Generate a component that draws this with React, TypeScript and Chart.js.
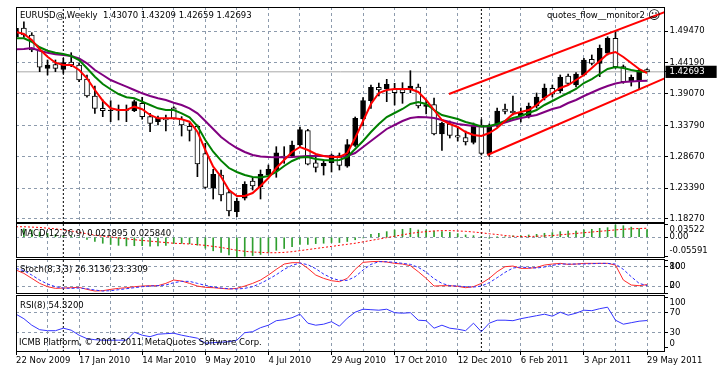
import React, { useEffect, useRef } from "react";
import { Chart, registerables } from "chart.js";

Chart.register(...registerables);

// ---------------- data ----------------
const dateLabels = ["22 Nov 2009", "17 Jan 2010", "14 Mar 2010", "9 May 2010", "4 Jul 2010", "29 Aug 2010", "17 Oct 2010", "12 Dec 2010", "6 Feb 2011", "3 Apr 2011", "29 May 2011"];
const dateLabelBars = [0, 8, 16, 24, 32, 40, 48, 56, 64, 72, 80];
const gridBars = [0, 4, 8, 12, 16, 20, 24, 28, 32, 36, 40, 44, 48, 52, 56, 60, 64, 68, 72, 76, 80];
const separatorBars = [6, 59];

const open = [
  1.4852, 1.4997, 1.4881, 1.4632, 1.4328, 1.4391, 1.4311, 1.4433, 1.4383, 1.4150,
  1.3868, 1.3664, 1.3624, 1.3644, 1.3628, 1.3624, 1.3747, 1.3525, 1.3442, 1.3498,
  1.3674, 1.3482, 1.3365, 1.3365, 1.2914, 1.2337, 1.2557, 1.2267, 1.1948, 1.2171,
  1.2458, 1.2363, 1.2557, 1.2640, 1.2873, 1.2873, 1.3055, 1.3296, 1.2761, 1.2707,
  1.2761, 1.2881, 1.2702, 1.3047, 1.3487, 1.3790, 1.4013, 1.3985, 1.3980, 1.3976,
  1.3968, 1.4018, 1.3694, 1.3727, 1.3238, 1.3404, 1.3213, 1.3180, 1.3097, 1.3387,
  1.2906, 1.3387, 1.3653, 1.3619, 1.3536, 1.3536, 1.3702, 1.3835, 1.3996, 1.3951,
  1.4200, 1.4051, 1.4217, 1.4477, 1.4411, 1.4577, 1.4826, 1.4355, 1.4106, 1.4122,
  1.4307,
];
const high = [
  1.5141, 1.5101, 1.4919, 1.4677, 1.4466, 1.4466, 1.4494, 1.4587, 1.4411, 1.4217,
  1.4034, 1.3802, 1.3790, 1.3719, 1.3719, 1.3802, 1.3847, 1.3581, 1.3536, 1.3553,
  1.3691, 1.3525, 1.3420, 1.3387, 1.3083, 1.2652, 1.2640, 1.2308, 1.2176, 1.2446,
  1.2507, 1.2640, 1.2723, 1.3027, 1.3027, 1.3121, 1.3354, 1.3316, 1.2889, 1.2806,
  1.2906, 1.2922, 1.3146, 1.3520, 1.3843, 1.4051, 1.4084, 1.4145, 1.4079, 1.4089,
  1.4288, 1.4067, 1.3802, 1.3835, 1.3437, 1.3453, 1.3354, 1.3287, 1.3420, 1.3478,
  1.3404, 1.3669, 1.3736, 1.3868, 1.3669, 1.3752, 1.3918, 1.4067, 1.4051, 1.4217,
  1.4233, 1.4255, 1.4494, 1.4549, 1.4715, 1.4852, 1.4935, 1.4383, 1.4217, 1.4316,
  1.43209,
];
const low = [
  1.4826, 1.4842, 1.4603, 1.4272, 1.4217, 1.4272, 1.4245, 1.4355, 1.4106, 1.3847,
  1.3581, 1.3525, 1.3442, 1.3470, 1.3442, 1.3608, 1.3482, 1.3276, 1.3387, 1.3287,
  1.3482, 1.3204, 1.3121, 1.2529, 1.2337, 1.2159, 1.2126, 1.1877, 1.1865, 1.2142,
  1.2308, 1.2159, 1.2529, 1.2519, 1.2751, 1.2856, 1.3027, 1.2723, 1.2607, 1.2557,
  1.2607, 1.2640, 1.2685, 1.3030, 1.3370, 1.3664, 1.3868, 1.3774, 1.3719, 1.3747,
  1.3923, 1.3669, 1.3570, 1.3221, 1.2964, 1.3171, 1.3121, 1.3055, 1.3072, 1.2889,
  1.2864, 1.3354, 1.3570, 1.3553, 1.3437, 1.3503, 1.3669, 1.3802, 1.3852, 1.3918,
  1.4051, 1.4018, 1.4200, 1.4383, 1.4189, 1.4549, 1.4328, 1.4079, 1.4034, 1.3980,
  1.42659,
];
const close = [
  1.4992, 1.4881, 1.4632, 1.4345, 1.4383, 1.4328, 1.4421, 1.4383, 1.4134, 1.3868,
  1.3664, 1.3624, 1.3636, 1.3631, 1.3639, 1.3774, 1.3525, 1.3415, 1.3498, 1.3470,
  1.3498, 1.3387, 1.3299, 1.2740, 1.2353, 1.2569, 1.2225, 1.1960, 1.2126, 1.2403,
  1.2375, 1.2569, 1.2652, 1.2927, 1.2844, 1.3055, 1.3309, 1.2735, 1.2685, 1.2751,
  1.2889, 1.2715, 1.3060, 1.3498, 1.3794, 1.4013, 1.3968, 1.4062, 1.3923, 1.3923,
  1.4034, 1.3702, 1.3727, 1.3238, 1.3415, 1.3213, 1.3183, 1.3105, 1.3387, 1.2914,
  1.3387, 1.3619, 1.3611, 1.3586, 1.3586, 1.3702, 1.3852, 1.4001, 1.3897, 1.4179,
  1.4079, 1.4233, 1.4466, 1.4411, 1.4660, 1.4826, 1.4355, 1.4106, 1.4179, 1.4300,
  1.42693,
];

const maFast = [
  1.4930, 1.4897, 1.4798, 1.4643, 1.4520, 1.4421, 1.4383, 1.4383, 1.4300, 1.4162,
  1.3968, 1.3790, 1.3664, 1.3636, 1.3636, 1.3691, 1.3648, 1.3553, 1.3498, 1.3498,
  1.3498, 1.3482, 1.3442, 1.3276, 1.2972, 1.2695, 1.2529, 1.2308, 1.2209, 1.2209,
  1.2258, 1.2375, 1.2507, 1.2673, 1.2806, 1.2939, 1.3022, 1.2972, 1.2906, 1.2873,
  1.2856, 1.2856, 1.2922, 1.3171, 1.3453, 1.3735, 1.3918, 1.3968, 1.3985, 1.3985,
  1.3985, 1.3935, 1.3802, 1.3636, 1.3470, 1.3404, 1.3354, 1.3271, 1.3221, 1.3204,
  1.3254, 1.3337, 1.3453, 1.3570, 1.3603, 1.3636, 1.3719, 1.3835, 1.3918, 1.4001,
  1.4051, 1.4134, 1.4217, 1.4333, 1.4449, 1.4565, 1.4599, 1.4516, 1.4416, 1.4316,
  1.4250,
];
const maMid = [
  1.4826, 1.4826, 1.4769, 1.4677, 1.4620, 1.4587, 1.4565, 1.4532, 1.4466, 1.4328,
  1.4189, 1.4067, 1.3980, 1.3901, 1.3847, 1.3830, 1.3774, 1.3719, 1.3664, 1.3636,
  1.3636, 1.3581, 1.3515, 1.3370, 1.3138, 1.2944, 1.2795, 1.2673, 1.2607, 1.2557,
  1.2524, 1.2516, 1.2541, 1.2607, 1.2707, 1.2790, 1.2848, 1.2856, 1.2823, 1.2806,
  1.2798, 1.2806, 1.2856, 1.2989, 1.3121, 1.3271, 1.3404, 1.3520, 1.3586, 1.3653,
  1.3736, 1.3769, 1.3736, 1.3636, 1.3553, 1.3520, 1.3487, 1.3437, 1.3404, 1.3362,
  1.3370, 1.3404, 1.3453, 1.3503, 1.3536, 1.3586, 1.3636, 1.3719, 1.3785, 1.3852,
  1.3918, 1.3985, 1.4084, 1.4150, 1.4233, 1.4316, 1.4350, 1.4333, 1.4300, 1.4275,
  1.4267,
];
const maSlow = [
  1.4643, 1.4648, 1.4665, 1.4620, 1.4587, 1.4560, 1.4549, 1.4532, 1.4494, 1.4411,
  1.4300, 1.4217, 1.4134, 1.4079, 1.4023, 1.3968, 1.3913, 1.3868, 1.3830, 1.3802,
  1.3757, 1.3719, 1.3664, 1.3581, 1.3453, 1.3321, 1.3188, 1.3088, 1.3005, 1.2939,
  1.2889, 1.2864, 1.2856, 1.2851, 1.2851, 1.2856, 1.2864, 1.2873, 1.2873, 1.2873,
  1.2864, 1.2856, 1.2873, 1.2922, 1.3022, 1.3121, 1.3221, 1.3321, 1.3387, 1.3453,
  1.3503, 1.3520, 1.3515, 1.3503, 1.3470, 1.3437, 1.3404, 1.3387, 1.3370, 1.3362,
  1.3362, 1.3387, 1.3429, 1.3470, 1.3503, 1.3528, 1.3553, 1.3603, 1.3653, 1.3686,
  1.3752, 1.3802, 1.3868, 1.3926, 1.3985, 1.4034, 1.4076, 1.4101, 1.4109, 1.4117,
  1.4122,
];

const channelUpperBars = [54.9, 82.3];
const channelUpperPrices = [1.3901, 1.5264];
const channelLowerBars = [59.75, 82.3];
const channelLowerPrices = [1.2889, 1.4164];

const priceTicks = [1.4947, 1.4419, 1.3907, 1.3379, 1.2867, 1.2339, 1.1827];
const bidPrice = 1.42693;

const macdHist = [
  0.0256, 0.0240, 0.0205, 0.0150, 0.0110, 0.0075, 0.0050, 0.0030, -0.0005, -0.0060,
  -0.0120, -0.0170, -0.0205, -0.0230, -0.0245, -0.0240, -0.0240, -0.0250, -0.0245, -0.0230,
  -0.0175, -0.0175, -0.0185, -0.0225, -0.0310, -0.0385, -0.0430, -0.0500, -0.0559, -0.0540,
  -0.0520, -0.0490, -0.0430, -0.0370, -0.0320, -0.0270, -0.0200, -0.0200, -0.0180, -0.0170,
  -0.0150, -0.0150, -0.0120, -0.0070, -0.0020, 0.0085, 0.0114, 0.0161, 0.0209, 0.0228,
  0.0256, 0.0209, 0.0209, 0.0180, 0.0161, 0.0142, 0.0104, 0.0066, 0.0047, 0.0019,
  -0.0028, 0.0005, 0.0009, 0.0038, 0.0047, 0.0066, 0.0085, 0.0114, 0.0133, 0.0161,
  0.0180, 0.0180, 0.0209, 0.0228, 0.0256, 0.0275, 0.0352, 0.0330, 0.0290, 0.0250,
  0.0219,
];
const macdSignal = [
  0.030, 0.030, 0.029, 0.028, 0.026, 0.024, 0.021, 0.018, 0.014, 0.010,
  0.006, 0.003, 0.001, -0.002, -0.004, -0.007, -0.009, -0.011, -0.013, -0.015,
  -0.017, -0.018, -0.019, -0.021, -0.023, -0.026, -0.029, -0.033, -0.037, -0.040,
  -0.042, -0.043, -0.044, -0.044, -0.043, -0.041, -0.038, -0.035, -0.032, -0.029,
  -0.026, -0.023, -0.020, -0.017, -0.013, -0.009, -0.005, -0.001, 0.003, 0.007,
  0.011, 0.014, 0.016, 0.018, 0.019, 0.019, 0.018, 0.017, 0.015, 0.013,
  0.010, 0.008, 0.005, 0.003, 0.002, 0.002, 0.003, 0.004, 0.005, 0.007,
  0.009, 0.011, 0.013, 0.015, 0.017, 0.019, 0.021, 0.023, 0.024, 0.025,
  0.0258,
];
const macdTicks = [0.03522, 0, -0.05591];
const macdTickLabels = ["0.03522", "0.00", "-0.05591"];

const stochMain = [
  70, 60, 45, 30, 20, 15, 16, 17, 18, 12,
  7, 8, 12, 15, 17, 20, 22, 23, 23, 30,
  40, 37, 30, 22, 18, 17, 15, 13, 15, 22,
  30, 40, 55, 72, 88, 92, 92, 75, 55, 45,
  38, 35, 45, 72, 93, 95, 96, 94, 90, 88,
  83, 65, 45, 22, 23, 23, 21, 17, 20, 30,
  45, 65, 80, 82, 75, 75, 78, 85, 88, 90,
  87, 88, 90, 90, 90, 90, 85, 40, 25, 23,
  26.3136,
];
const stochSignal = [
  75, 68, 55, 40, 28, 20, 16, 15, 16, 14,
  10, 7, 8, 11, 14, 17, 20, 22, 23, 25,
  32, 36, 36, 30, 24, 19, 16, 14, 13, 15,
  20, 30, 42, 56, 72, 84, 91, 86, 74, 58,
  46, 39, 39, 50, 70, 87, 95, 95, 93, 90,
  87, 78, 64, 44, 30, 23, 22, 20, 19, 22,
  32, 47, 63, 76, 79, 77, 76, 79, 84, 88,
  88, 88, 88, 89, 90, 90, 88, 72, 50, 30,
  23.3309,
];
const stochTicks = [100, 80, 20, 0];
const stochLevels = [80, 20];

const rsi = [
  67, 58, 45, 36, 34, 34, 39, 35, 25, 18,
  16, 15, 15, 15, 15, 31, 25, 22, 27, 28,
  29, 25, 22, 19, 9, 10, 11, 12, 15, 30,
  32, 40, 45, 54, 56, 60, 67, 49, 45, 47,
  52, 43, 59, 71, 77, 76, 75, 77, 70, 69,
  70, 55, 54, 39, 45, 39, 37, 34, 49, 32,
  49, 55, 55, 54, 58, 61, 64, 67, 63, 71,
  65, 69, 75, 74, 78, 81, 55, 47, 50, 53,
  54.32,
];
const rsiTicks = [100, 70, 30, 0];
const rsiLevels = [70, 30];

// ---------------- styling ----------------
const FONT_FAMILY = '"DejaVu Sans", "Liberation Sans", sans-serif';
const TICK_FONT = { family: FONT_FAMILY, size: 8.5 };
const GRID = "#8d9bad";
const X_MAX = 82.28;
const AXIS_W = 52;
const CLEAR = "rgba(0,0,0,0)";

const framePlugin = {
  id: "frame",
  afterDraw(chart: any) {
    const { ctx, chartArea: a } = chart;
    ctx.save();
    ctx.strokeStyle = "#000";
    ctx.lineWidth = 1;
    ctx.setLineDash([]);
    ctx.strokeRect(a.left + 0.5, a.top + 0.5, a.right - a.left - 1, a.bottom - a.top - 1);
    ctx.restore();
  },
};

function clampLabels(scale: any, inset: number) {
  if (scale.__clampWrapped || typeof scale._computeLabelItems !== "function") return;
  const orig = scale._computeLabelItems.bind(scale);
  scale._computeLabelItems = (area: any) => {
    const items = orig(area);
    for (const it of items) {
      const tr = it.options && it.options.translation;
      if (!tr) continue;
      if (tr[1] < scale.top + inset) tr[1] = scale.top + inset;
      if (tr[1] > scale.bottom - inset) tr[1] = scale.bottom - inset;
    }
    return items;
  };
  scale.__clampWrapped = true;
}

function xAxis(showLabels: boolean) {
  return {
    type: "linear",
    min: 0,
    max: X_MAX,
    offset: false,
    afterBuildTicks: (s: any) => {
      s.ticks = gridBars.map((v) => ({ value: v }));
    },
    afterFit: (s: any) => {
      s.height = showLabels ? 17 : 0;
      s.paddingLeft = 0;
      s.paddingRight = 0;
    },
    grid: {
      color: GRID,
      lineWidth: 1,
      offset: false,
      drawTicks: showLabels,
      tickLength: 3,
      tickColor: (c: any) => (c.tick && dateLabelBars.includes(c.tick.value) ? "#000" : CLEAR),
    },
    border: { display: false, dash: [3, 3] },
    ticks: {
      display: showLabels,
      autoSkip: false,
      maxRotation: 0,
      minRotation: 0,
      align: "start",
      padding: 1,
      color: "#000",
      font: TICK_FONT,
      callback: (v: any) => {
        const k = dateLabelBars.indexOf(Number(v));
        return k >= 0 ? dateLabels[k] : "";
      },
    },
  };
}

function yAxis(o: { min: number; max: number; ticks: number[]; format: (v: number) => string; gridAt: number[]; clamp: number; bid?: number }) {
  const isBid = (c: any) => o.bid !== undefined && c.tick && c.tick.value === o.bid;
  return {
    type: "linear",
    position: "right",
    min: o.min,
    max: o.max,
    afterBuildTicks: (s: any) => {
      s.ticks = o.ticks.map((v) => ({ value: v }));
    },
    afterFit: (s: any) => {
      s.width = AXIS_W;
      s.paddingTop = 0;
      s.paddingBottom = 0;
      if (o.clamp) clampLabels(s, o.clamp);
    },
    grid: {
      color: (c: any) => (c.tick && o.gridAt.includes(c.tick.value) ? GRID : CLEAR),
      lineWidth: 1,
      drawTicks: true,
      tickLength: 3,
      tickColor: "#000",
    },
    border: { display: false, dash: [3, 3] },
    ticks: {
      autoSkip: false,
      padding: 1.5,
      font: TICK_FONT,
      color: (c: any) => (isBid(c) ? "#fff" : "#000"),
      showLabelBackdrop: (c: any) => isBid(c),
      backdropColor: "#000",
      backdropPadding: { top: 1, bottom: 1, left: 4, right: 12 },
      callback: (v: any) => o.format(Number(v)),
    },
  };
}

function vLines(bars: number[], yMin: number, yMax: number) {
  return bars.map((b) => ({
    type: "line",
    data: [
      { x: b, y: yMin },
      { x: b, y: yMax },
    ],
    borderColor: "#000",
    borderWidth: 1,
    borderDash: [2, 2],
    pointRadius: 0,
    order: 20,
  }));
}

function series(values: number[], color: string, width: number, order: number, dash?: number[]) {
  return {
    type: "line",
    data: values.map((v, i) => ({ x: i, y: v })),
    borderColor: color,
    borderWidth: width,
    borderDash: dash || [],
    pointRadius: 0,
    tension: 0,
    fill: false,
    order,
  };
}

function segment(bars: number[], prices: number[], color: string, width: number, order: number) {
  return {
    type: "line",
    data: bars.map((b, j) => ({ x: b, y: prices[j] })),
    borderColor: color,
    borderWidth: width,
    pointRadius: 0,
    tension: 0,
    fill: false,
    order,
  };
}

const baseOptions = {
  responsive: false,
  animation: false,
  devicePixelRatio: 1,
  events: [],
  layout: { padding: { left: 16, right: 0, top: 0, bottom: 0 } },
  plugins: { legend: { display: false }, tooltip: { enabled: false }, title: { display: false } },
};

const MAIN_MIN = 1.17606;
const MAIN_MAX = 1.53453;

function mainConfig(): any {
  const idx = open.map((_, i) => i);
  return {
    type: "bar",
    data: {
      datasets: [
        segment(channelUpperBars, channelUpperPrices, "#ff0000", 2, 1),
        segment(channelLowerBars, channelLowerPrices, "#ff0000", 2, 1),
        series(maFast, "#ff0000", 2, 2),
        series(maMid, "#008000", 2, 3),
        series(maSlow, "#800080", 2, 4),
        {
          type: "bar",
          data: idx.map((i) => ({ x: i, y: [Math.min(open[i], close[i]), Math.max(open[i], close[i])] })),
          backgroundColor: idx.map((i) => (close[i] >= open[i] ? "#000" : "#fff")),
          borderColor: "#000",
          borderWidth: 1,
          borderSkipped: false,
          barThickness: 5,
          grouped: false,
          order: 6,
        },
        {
          type: "bar",
          data: idx.map((i) => ({ x: i, y: [low[i], high[i]] })),
          backgroundColor: "#000",
          borderWidth: 0,
          barThickness: 1,
          grouped: false,
          order: 7,
        },
        segment([0, X_MAX], [bidPrice, bidPrice], "#a8a8a8", 1, 21),
        ...vLines(separatorBars, MAIN_MIN, MAIN_MAX),
      ],
    },
    options: {
      ...baseOptions,
      scales: {
        x: xAxis(false),
        y: yAxis({
          min: MAIN_MIN,
          max: MAIN_MAX,
          ticks: [...priceTicks, bidPrice],
          format: (v) => v.toFixed(5),
          gridAt: priceTicks,
          clamp: 0,
          bid: bidPrice,
        }),
      },
    },
    plugins: [framePlugin],
  };
}

const MACD_MIN = -0.059;
const MACD_MAX = 0.0407;

function macdConfig(): any {
  return {
    type: "bar",
    data: {
      datasets: [
        series(macdSignal, "#ff0000", 1, 1, [2, 2]),
        {
          type: "bar",
          data: macdHist.map((v, i) => ({ x: i, y: v })),
          backgroundColor: "#2f9f2f",
          borderWidth: 0,
          barThickness: 1,
          grouped: false,
          order: 5,
        },
        ...vLines(separatorBars, MACD_MIN, MACD_MAX),
      ],
    },
    options: {
      ...baseOptions,
      scales: {
        x: xAxis(false),
        y: yAxis({
          min: MACD_MIN,
          max: MACD_MAX,
          ticks: macdTicks,
          format: (v) => macdTickLabels[macdTicks.indexOf(v)] ?? String(v),
          gridAt: [0],
          clamp: 7,
        }),
      },
    },
    plugins: [framePlugin],
  };
}

const STOCH_MIN = -1.9;
const STOCH_MAX = 103.1;

function stochConfig(): any {
  return {
    type: "line",
    data: {
      datasets: [
        series(stochMain, "#ff2a2a", 1, 2),
        series(stochSignal, "#2a2aff", 1, 1, [3, 2]),
        ...vLines(separatorBars, STOCH_MIN, STOCH_MAX),
      ],
    },
    options: {
      ...baseOptions,
      scales: {
        x: xAxis(false),
        y: yAxis({ min: STOCH_MIN, max: STOCH_MAX, ticks: stochTicks, format: (v) => String(v), gridAt: stochLevels, clamp: 8 }),
      },
    },
    plugins: [framePlugin],
  };
}

const RSI_MIN = -8.6;
const RSI_MAX = 105.4;

function rsiConfig(): any {
  return {
    type: "line",
    data: {
      datasets: [series(rsi, "#3434ff", 1, 1), ...vLines(separatorBars, RSI_MIN, RSI_MAX)],
    },
    options: {
      ...baseOptions,
      scales: {
        x: xAxis(true),
        y: yAxis({ min: RSI_MIN, max: RSI_MAX, ticks: rsiTicks, format: (v) => String(v), gridAt: rsiLevels, clamp: 8 }),
      },
    },
    plugins: [framePlugin],
  };
}

const textBase: React.CSSProperties = {
  position: "absolute",
  fontFamily: FONT_FAMILY,
  fontSize: "8.5px",
  lineHeight: "10px",
  color: "#000",
  whiteSpace: "pre",
  pointerEvents: "none",
};

export default function App() {
  const mainRef = useRef<HTMLCanvasElement>(null);
  const macdRef = useRef<HTMLCanvasElement>(null);
  const stochRef = useRef<HTMLCanvasElement>(null);
  const rsiRef = useRef<HTMLCanvasElement>(null);

  useEffect(() => {
    const charts = [
      new Chart(mainRef.current as HTMLCanvasElement, mainConfig()),
      new Chart(macdRef.current as HTMLCanvasElement, macdConfig()),
      new Chart(stochRef.current as HTMLCanvasElement, stochConfig()),
      new Chart(rsiRef.current as HTMLCanvasElement, rsiConfig()),
    ];
    return () => charts.forEach((c) => c.destroy());
  }, []);

  return (
    <div style={{ position: "fixed", left: 0, top: 0, width: 717, height: 369, background: "#fff", overflow: "hidden" }}>
      <canvas ref={mainRef} width={717} height={216} style={{ position: "absolute", left: 0, top: 7 }} />
      <canvas ref={macdRef} width={717} height={35} style={{ position: "absolute", left: 0, top: 223 }} />
      <canvas ref={stochRef} width={717} height={35} style={{ position: "absolute", left: 0, top: 259 }} />
      <canvas ref={rsiRef} width={717} height={74} style={{ position: "absolute", left: 0, top: 295 }} />

      <div style={{ ...textBase, left: 20, top: 10 }}>EURUSD@,Weekly  1.43070 1.43209 1.42659 1.42693</div>
      <div style={{ ...textBase, right: 72, top: 10 }}>quotes_flow__monitor2</div>
      <div style={{ ...textBase, left: 648, top: 8, fontSize: "12px", lineHeight: "14px" }}>☺</div>
      <div style={{ ...textBase, left: 20, top: 228 }}>MACD(12,26,9) 0.021895 0.025840</div>
      <div style={{ ...textBase, left: 20, top: 264 }}>Stoch(8,3,3) 26.3136 23.3309</div>
      <div style={{ ...textBase, left: 20, top: 300 }}>RSI(8) 54.3200</div>
      <div style={{ ...textBase, left: 19, top: 337 }}>ICMB Platform, © 2001-2011 MetaQuotes Software Corp.</div>
    </div>
  );
}
